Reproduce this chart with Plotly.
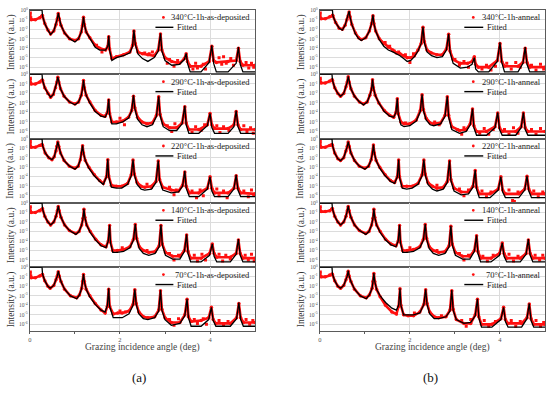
import plotly.graph_objects as go

# ---------------- data (log10 of intensity) ----------------
labels_a = ["340°C-1h-as-deposited", "290°C-1h-as-deposited", "220°C-1h-as-deposited",
            "140°C-1h-as-deposited", "70°C-1h-as-deposited"]
labels_b = ["340°C-1h-anneal", "290°C-1h-anneal", "220°C-1h-anneal",
            "140°C-1h-anneal", "70°C-1h-anneal"]
fit_label = "Fitted"
x_title = "Grazing incidence angle (deg)"
y_title = "Intensity (a.u.)"
panel_tags = ["(a)", "(b)"]

# ---- panel (a) ----
ang_a340 = [0, 0.03, 0.12, 0.22, 0.27, 0.28, 0.33, 0.40, 0.46, 0.53, 0.58, 0.61, 0.63, 0.65, 0.69, 0.77, 0.88, 1.00, 1.08, 1.14, 1.17, 1.19, 1.21, 1.25, 1.33, 1.45, 1.55, 1.68, 1.73, 1.75, 1.77, 1.82, 1.92, 2.08, 2.22, 2.28, 2.31, 2.34, 2.40, 2.50, 2.62, 2.76, 2.85, 2.90, 2.93, 3.00, 3.15, 3.32, 3.43, 3.47, 3.50, 3.56, 3.80, 3.98, 4.04, 4.08, 4.14, 4.40, 4.58, 4.63, 4.67, 4.73, 5.00]
fit_a340 = [0, 0, 0, 0, 0, -0.6, -1.4, -2.1, -2.55, -2.2, -1.5, -0.9, -0.3, -0.9, -1.6, -2.4, -3.0, -3.35, -3.0, -2.3, -1.6, -0.7, -1.5, -2.3, -3.0, -3.9, -4.2, -4.2, -3.8, -2.7, -4.2, -5.3, -5.0, -4.8, -4.5, -3.8, -2.1, -3.6, -4.6, -5.1, -5.4, -5.0, -4.3, -2.45, -4.3, -5.3, -5.8, -5.7, -5.2, -4.55, -5.6, -6.5, -6.5, -5.5, -3.7, -5.6, -6.5, -6.5, -5.6, -3.9, -5.7, -6.5, -6.5]
meas_a340 = [-0.5, -1.0, -1.0, -0.8, -0.6, -0.6, -1.4, -2.1, -2.5, -2.2, -1.5, -0.9, -0.35, -0.9, -1.6, -2.4, -3.0, -3.2, -3.0, -2.3, -1.6, -0.75, -1.5, -2.3, -2.9, -3.7, -4.0, -4.2, -3.8, -2.8, -4.1, -5.1, -4.9, -4.7, -4.4, -3.7, -2.2, -3.5, -4.4, -4.6, -4.7, -4.8, -4.2, -2.5, -4.2, -5.0, -5.4, -5.6, -5.1, -4.6, -5.4, -5.9, -5.9, -5.4, -3.8, -5.3, -5.5, -5.4, -5.3, -4.0, -5.4, -5.8, -5.8]
noise_ang_a340 = [0.01, 0.02, 1.48, 1.6, 2.55, 2.65, 2.72, 3.05, 3.1, 3.2, 3.28, 3.62, 3.68, 3.72, 3.85, 3.9, 4.2, 4.26, 4.3, 4.36, 4.46, 4.52, 4.8, 4.86, 4.92, 4.97]
noise_a340 = [-0.3, -0.8, -3.7, -4.4, -4.5, -4.6, -4.4, -5.6, -5.2, -5.9, -5.3, -6.2, -5.6, -6.1, -5.7, -6.2, -5.0, -5.7, -4.9, -5.6, -5.1, -5.8, -5.5, -6.1, -5.6, -6.0]

ang_a290 = [0, 0.03, 0.12, 0.22, 0.27, 0.28, 0.33, 0.40, 0.46, 0.52, 0.57, 0.60, 0.62, 0.64, 0.68, 0.76, 0.88, 1.00, 1.08, 1.14, 1.17, 1.19, 1.21, 1.25, 1.33, 1.45, 1.58, 1.67, 1.72, 1.75, 1.77, 1.82, 1.92, 2.06, 2.19, 2.26, 2.30, 2.33, 2.39, 2.49, 2.60, 2.72, 2.81, 2.86, 2.89, 2.96, 3.10, 3.26, 3.38, 3.44, 3.47, 3.53, 3.75, 3.94, 4.00, 4.04, 4.10, 4.40, 4.53, 4.58, 4.62, 4.68, 5.00]
fit_a290 = [0, 0, 0, 0, 0, -0.6, -1.4, -2.0, -2.4, -2.1, -1.4, -0.8, -0.25, -0.8, -1.5, -2.3, -2.9, -3.2, -2.9, -2.2, -1.5, -0.6, -1.4, -2.2, -3.0, -3.9, -4.4, -4.5, -4.0, -2.6, -4.2, -5.2, -5.2, -5.0, -4.6, -3.8, -2.2, -3.6, -4.7, -5.3, -5.5, -5.3, -4.4, -2.3, -4.3, -5.5, -5.9, -5.9, -5.2, -3.3, -5.3, -6.2, -6.2, -5.4, -4.1, -5.6, -6.2, -6.2, -5.5, -3.8, -5.5, -6.2, -6.2]
meas_a290 = [-0.5, -1.0, -1.0, -0.8, -0.6, -0.6, -1.4, -2.0, -2.4, -2.1, -1.4, -0.8, -0.3, -0.8, -1.5, -2.3, -2.9, -3.1, -2.9, -2.2, -1.5, -0.65, -1.4, -2.2, -2.9, -3.8, -4.3, -4.4, -4.0, -2.7, -4.1, -5.0, -5.0, -4.9, -4.5, -3.8, -2.3, -3.5, -4.5, -5.0, -5.2, -5.1, -4.3, -2.35, -4.2, -5.2, -5.6, -5.6, -5.1, -3.4, -5.1, -5.8, -5.8, -5.3, -4.1, -5.3, -5.7, -5.7, -5.3, -3.9, -5.3, -5.8, -5.8]
noise_ang_a290 = [0.01, 2.0, 2.1, 3.05, 3.15, 3.22, 3.6, 3.68, 3.8, 3.88, 4.15, 4.22, 4.3, 4.42, 4.75, 4.82, 4.9, 4.96]
noise_a290 = [-0.4, -4.6, -5.3, -5.4, -6.0, -5.2, -6.1, -5.5, -5.9, -5.3, -5.4, -6.1, -5.5, -5.9, -5.4, -6.0, -5.6, -6.2]

ang_a220 = [0, 0.03, 0.12, 0.22, 0.27, 0.28, 0.34, 0.42, 0.49, 0.54, 0.58, 0.60, 0.62, 0.64, 0.68, 0.76, 0.88, 1.00, 1.07, 1.12, 1.15, 1.17, 1.19, 1.23, 1.31, 1.43, 1.55, 1.63, 1.70, 1.73, 1.75, 1.81, 1.92, 2.04, 2.17, 2.25, 2.29, 2.32, 2.38, 2.47, 2.55, 2.70, 2.80, 2.85, 2.88, 2.95, 3.14, 3.30, 3.39, 3.44, 3.47, 3.54, 3.75, 3.94, 4.00, 4.04, 4.10, 4.40, 4.53, 4.58, 4.62, 4.68, 5.00]
fit_a220 = [0, 0, 0, 0, 0, -0.7, -1.5, -2.0, -2.2, -1.9, -1.3, -0.8, -0.3, -0.8, -1.5, -2.3, -2.9, -3.2, -2.9, -2.2, -1.5, -0.7, -1.5, -2.3, -3.1, -3.9, -4.5, -4.8, -4.0, -2.15, -4.0, -5.1, -5.2, -5.2, -4.8, -3.9, -2.2, -3.8, -4.8, -5.3, -5.4, -5.3, -4.6, -2.3, -4.4, -5.4, -5.7, -5.6, -5.0, -3.4, -5.2, -6.1, -6.1, -5.3, -4.0, -5.5, -6.1, -6.1, -5.3, -3.8, -5.4, -6.1, -6.1]
meas_a220 = [-0.5, -0.9, -0.9, -0.7, -0.6, -0.7, -1.5, -2.0, -2.2, -1.9, -1.3, -0.8, -0.35, -0.8, -1.5, -2.3, -2.9, -3.1, -2.9, -2.2, -1.5, -0.75, -1.5, -2.3, -3.0, -3.8, -4.4, -4.7, -4.0, -2.2, -3.9, -4.9, -5.0, -5.0, -4.7, -3.8, -2.25, -3.7, -4.6, -5.0, -5.1, -5.0, -4.5, -2.35, -4.3, -5.1, -5.4, -5.5, -4.9, -3.5, -5.0, -5.7, -5.7, -5.2, -4.0, -5.2, -5.7, -5.7, -5.2, -3.9, -5.2, -5.7, -5.8]
noise_ang_a220 = [0.01, 2.6, 2.7, 3.1, 3.2, 3.25, 3.6, 3.7, 3.78, 3.85, 4.15, 4.2, 4.3, 4.38, 4.75, 4.85, 4.92, 4.97]
noise_a220 = [-0.3, -4.8, -5.1, -5.1, -5.9, -5.4, -5.5, -6.2, -5.4, -6.0, -5.3, -6.0, -5.5, -6.2, -5.5, -6.1, -5.4, -5.9]

ang_a140 = [0, 0.03, 0.12, 0.22, 0.27, 0.28, 0.33, 0.40, 0.46, 0.53, 0.58, 0.61, 0.63, 0.65, 0.69, 0.77, 0.88, 1.02, 1.09, 1.15, 1.18, 1.20, 1.22, 1.26, 1.34, 1.46, 1.58, 1.69, 1.74, 1.77, 1.79, 1.84, 1.94, 2.08, 2.22, 2.30, 2.34, 2.37, 2.43, 2.52, 2.64, 2.78, 2.87, 2.91, 2.94, 3.01, 3.17, 3.33, 3.43, 3.48, 3.51, 3.57, 3.80, 3.99, 4.05, 4.09, 4.15, 4.45, 4.58, 4.63, 4.67, 4.73, 5.00]
fit_a140 = [0, 0, 0, 0, 0, -0.6, -1.4, -2.0, -2.3, -2.0, -1.4, -0.8, -0.3, -0.8, -1.5, -2.3, -2.9, -3.3, -3.0, -2.3, -1.6, -0.6, -1.5, -2.3, -3.1, -3.9, -4.5, -4.7, -4.0, -2.3, -4.2, -5.2, -5.2, -5.1, -4.7, -3.9, -2.2, -3.8, -4.8, -5.3, -5.5, -5.3, -4.6, -2.3, -4.4, -5.5, -5.9, -5.9, -5.1, -3.3, -5.3, -6.2, -6.2, -5.5, -4.3, -5.6, -6.2, -6.2, -5.4, -3.8, -5.5, -6.2, -6.2]
meas_a140 = [-0.5, -1.0, -1.0, -0.8, -0.7, -0.6, -1.4, -2.0, -2.3, -2.0, -1.4, -0.8, -0.35, -0.8, -1.5, -2.3, -2.9, -3.2, -3.0, -2.3, -1.6, -0.65, -1.5, -2.3, -3.0, -3.8, -4.4, -4.6, -4.0, -2.35, -4.1, -5.0, -5.0, -4.9, -4.6, -3.8, -2.25, -3.7, -4.6, -5.0, -5.2, -5.1, -4.5, -2.35, -4.3, -5.2, -5.6, -5.6, -5.0, -3.35, -5.1, -5.8, -5.8, -5.3, -4.3, -5.3, -5.7, -5.7, -5.3, -3.9, -5.3, -5.8, -5.8]
noise_ang_a140 = [0.01, 2.05, 2.6, 3.1, 3.2, 3.3, 3.65, 3.72, 3.82, 3.9, 4.2, 4.28, 4.35, 4.45, 4.78, 4.85, 4.92, 4.98]
noise_a140 = [-0.4, -4.7, -5.0, -5.3, -6.0, -5.5, -5.5, -6.1, -5.4, -6.0, -5.4, -6.1, -5.5, -5.9, -5.5, -6.0, -5.4, -6.1]

ang_a70 = [0, 0.03, 0.12, 0.22, 0.27, 0.28, 0.33, 0.40, 0.45, 0.53, 0.58, 0.61, 0.63, 0.65, 0.69, 0.77, 0.90, 1.04, 1.10, 1.15, 1.17, 1.19, 1.21, 1.25, 1.33, 1.45, 1.58, 1.67, 1.72, 1.75, 1.77, 1.85, 1.95, 2.05, 2.20, 2.29, 2.33, 2.36, 2.42, 2.52, 2.62, 2.77, 2.86, 2.90, 2.93, 3.00, 3.14, 3.33, 3.44, 3.49, 3.52, 3.58, 3.80, 3.97, 4.03, 4.07, 4.13, 4.45, 4.59, 4.64, 4.68, 4.74, 5.00]
fit_a70 = [0, 0, 0, 0, 0, -0.7, -1.4, -2.0, -2.2, -1.9, -1.3, -0.9, -0.4, -0.9, -1.5, -2.3, -3.0, -3.3, -2.9, -2.2, -1.5, -0.7, -1.5, -2.3, -3.1, -3.9, -4.5, -4.7, -4.0, -2.2, -4.1, -5.3, -5.3, -5.3, -4.9, -4.0, -2.3, -3.9, -4.9, -5.4, -5.5, -5.3, -4.6, -2.4, -4.5, -5.5, -6.1, -5.9, -5.1, -3.3, -5.3, -6.2, -6.2, -5.5, -4.2, -5.6, -6.2, -6.2, -5.4, -3.7, -5.5, -6.2, -6.2]
meas_a70 = [-0.6, -1.1, -1.1, -0.9, -0.8, -0.75, -1.4, -2.0, -2.2, -1.9, -1.3, -0.9, -0.45, -0.9, -1.5, -2.3, -3.0, -3.2, -2.9, -2.2, -1.5, -0.75, -1.5, -2.3, -3.0, -3.8, -4.5, -4.8, -4.1, -2.3, -4.1, -4.9, -4.8, -4.8, -4.6, -3.9, -2.35, -3.8, -4.7, -5.2, -5.3, -5.2, -4.5, -2.45, -4.4, -5.3, -5.8, -5.8, -5.0, -3.35, -5.2, -5.7, -5.6, -5.3, -4.2, -5.5, -5.9, -5.9, -5.3, -3.8, -5.3, -5.8, -5.8]
noise_ang_a70 = [0.01, 0.02, 2.0, 2.12, 3.1, 3.2, 3.3, 3.65, 3.72, 3.85, 3.92, 4.2, 4.3, 4.4, 4.8, 4.88, 4.95]
noise_a70 = [-0.5, -0.9, -4.6, -4.7, -5.5, -6.1, -5.4, -5.5, -5.9, -5.4, -6.0, -5.6, -6.1, -5.7, -5.5, -6.0, -5.6]

# ---- panel (b) ----
ang_b340 = [0, 0.03, 0.12, 0.22, 0.28, 0.29, 0.35, 0.43, 0.50, 0.56, 0.60, 0.63, 0.65, 0.67, 0.71, 0.79, 0.86, 0.92, 1.02, 1.10, 1.15, 1.18, 1.20, 1.24, 1.32, 1.42, 1.52, 1.62, 1.70, 1.78, 1.86, 1.94, 2.02, 2.10, 2.18, 2.25, 2.29, 2.32, 2.38, 2.48, 2.60, 2.72, 2.81, 2.86, 2.89, 2.96, 3.12, 3.28, 3.38, 3.43, 3.46, 3.52, 3.75, 3.94, 4.00, 4.04, 4.10, 4.40, 4.51, 4.56, 4.60, 4.66, 5.00]
fit_b340 = [0, 0, 0, 0, 0, -0.6, -1.3, -1.9, -2.1, -1.6, -1.0, -0.6, -0.1, -0.7, -1.5, -2.5, -3.0, -3.2, -2.9, -2.2, -1.4, -0.5, -1.4, -2.2, -3.1, -3.8, -4.2, -4.4, -4.6, -4.8, -5.1, -5.4, -5.3, -4.9, -4.3, -3.5, -1.75, -3.4, -4.4, -4.8, -5.0, -4.9, -4.2, -2.5, -4.4, -5.6, -6.1, -6.0, -5.7, -5.0, -6.2, -6.5, -6.5, -5.4, -3.4, -5.5, -6.5, -6.5, -5.6, -3.9, -5.7, -6.5, -6.5]
meas_b340 = [-0.5, -0.9, -0.9, -0.7, -0.55, -0.6, -1.3, -1.9, -2.0, -1.6, -1.0, -0.6, -0.2, -0.7, -1.5, -2.4, -2.9, -3.1, -2.9, -2.2, -1.4, -0.6, -1.4, -2.2, -3.0, -3.5, -3.9, -4.2, -4.5, -4.6, -4.8, -5.0, -5.0, -4.8, -4.2, -3.5, -1.8, -3.3, -4.2, -4.5, -4.7, -4.7, -4.1, -2.55, -4.3, -5.2, -5.6, -5.6, -5.4, -4.9, -5.7, -6.0, -6.0, -5.3, -3.5, -5.4, -5.9, -5.9, -5.5, -4.0, -5.5, -6.0, -6.0]
noise_ang_b340 = [0.01, 1.45, 1.55, 1.65, 1.75, 1.9, 2.0, 2.08, 3.0, 3.1, 3.2, 3.3, 3.6, 3.7, 3.8, 3.9, 4.15, 4.25, 4.35, 4.45, 4.7, 4.8, 4.9, 4.97]
noise_b340 = [-0.3, -3.4, -3.8, -4.3, -4.4, -4.7, -5.5, -4.6, -5.2, -5.8, -5.4, -6.0, -6.2, -5.8, -6.3, -5.9, -5.6, -6.2, -5.5, -6.0, -5.8, -6.3, -5.7, -6.2]

ang_b290 = [0, 0.03, 0.12, 0.22, 0.27, 0.28, 0.33, 0.40, 0.46, 0.53, 0.58, 0.61, 0.63, 0.65, 0.69, 0.77, 0.88, 0.97, 1.05, 1.11, 1.15, 1.17, 1.19, 1.23, 1.31, 1.43, 1.55, 1.64, 1.69, 1.72, 1.74, 1.80, 1.87, 2.00, 2.14, 2.23, 2.27, 2.30, 2.36, 2.45, 2.53, 2.68, 2.78, 2.83, 2.86, 2.93, 3.10, 3.25, 3.34, 3.39, 3.42, 3.48, 3.70, 3.89, 3.95, 3.99, 4.05, 4.35, 4.47, 4.52, 4.56, 4.62, 5.00]
fit_b290 = [0, 0, 0, 0, 0, -0.6, -1.4, -2.0, -2.3, -2.0, -1.3, -0.8, -0.2, -0.8, -1.5, -2.3, -2.9, -3.2, -2.9, -2.2, -1.5, -0.5, -1.4, -2.2, -3.0, -3.9, -4.4, -4.5, -4.0, -2.5, -4.2, -5.3, -5.5, -5.4, -4.9, -3.9, -2.1, -3.8, -4.8, -5.3, -5.4, -5.2, -4.4, -2.3, -4.5, -5.8, -6.2, -6.0, -5.3, -3.6, -5.6, -6.4, -6.4, -5.6, -4.0, -5.8, -6.4, -6.4, -5.6, -4.0, -5.8, -6.4, -6.4]
meas_b290 = [-0.5, -0.9, -0.9, -0.7, -0.55, -0.6, -1.4, -2.0, -2.3, -2.0, -1.3, -0.8, -0.25, -0.8, -1.5, -2.3, -2.9, -3.1, -2.9, -2.2, -1.5, -0.55, -1.4, -2.2, -3.0, -3.8, -4.3, -4.5, -4.0, -2.55, -4.1, -5.0, -5.2, -5.2, -4.8, -3.8, -2.15, -3.7, -4.6, -5.1, -5.2, -5.1, -4.3, -2.35, -4.3, -5.5, -5.9, -5.8, -5.2, -3.65, -5.4, -6.0, -6.0, -5.5, -4.05, -5.6, -6.0, -6.0, -5.5, -4.05, -5.6, -6.0, -6.0]
noise_ang_b290 = [0.01, 1.9, 2.55, 2.65, 3.05, 3.15, 3.2, 3.55, 3.65, 3.75, 3.85, 4.1, 4.2, 4.3, 4.4, 4.7, 4.8, 4.9]
noise_b290 = [-0.4, -5.1, -5.0, -5.3, -5.8, -6.3, -5.6, -6.2, -5.7, -6.3, -5.8, -5.8, -6.3, -5.6, -6.2, -5.8, -6.3, -5.7]

ang_b220 = [0, 0.03, 0.12, 0.22, 0.27, 0.28, 0.33, 0.40, 0.46, 0.53, 0.58, 0.61, 0.63, 0.65, 0.69, 0.77, 0.88, 1.00, 1.08, 1.14, 1.17, 1.19, 1.21, 1.25, 1.33, 1.45, 1.57, 1.66, 1.72, 1.75, 1.77, 1.83, 1.93, 2.05, 2.18, 2.27, 2.31, 2.34, 2.40, 2.50, 2.60, 2.74, 2.83, 2.88, 2.91, 2.98, 3.14, 3.30, 3.40, 3.45, 3.48, 3.54, 3.78, 3.96, 4.02, 4.06, 4.12, 4.42, 4.55, 4.60, 4.64, 4.70, 5.00]
fit_b220 = [0, 0, 0, 0, 0, -0.7, -1.5, -2.1, -2.3, -2.0, -1.3, -0.8, -0.3, -0.8, -1.5, -2.3, -2.9, -3.2, -2.9, -2.2, -1.5, -0.6, -1.5, -2.3, -3.1, -3.9, -4.5, -4.7, -4.0, -2.2, -4.1, -5.2, -5.3, -5.2, -4.8, -3.9, -2.2, -3.8, -4.8, -5.3, -5.5, -5.3, -4.6, -2.3, -4.4, -5.5, -5.9, -5.8, -5.1, -3.3, -5.3, -6.2, -6.2, -5.4, -4.0, -5.6, -6.2, -6.2, -5.4, -3.9, -5.5, -6.2, -6.2]
meas_b220 = [-0.5, -0.9, -0.9, -0.7, -0.6, -0.7, -1.5, -2.1, -2.3, -2.0, -1.3, -0.8, -0.35, -0.8, -1.5, -2.3, -2.9, -3.1, -2.9, -2.2, -1.5, -0.65, -1.5, -2.3, -3.0, -3.8, -4.4, -4.6, -4.0, -2.25, -4.0, -5.0, -5.0, -5.0, -4.7, -3.8, -2.25, -3.7, -4.6, -5.0, -5.2, -5.1, -4.5, -2.35, -4.3, -5.2, -5.6, -5.6, -5.0, -3.35, -5.1, -5.8, -5.8, -5.3, -4.0, -5.4, -5.8, -5.8, -5.3, -3.95, -5.3, -5.8, -5.8]
noise_ang_b220 = [0.01, 2.6, 3.1, 3.2, 3.3, 3.6, 3.7, 3.8, 4.2, 4.28, 4.32, 4.4, 4.75, 4.85, 4.95]
noise_b220 = [-0.3, -4.9, -5.3, -6.0, -5.4, -5.5, -6.1, -5.6, -5.4, -6.5, -6.6, -5.6, -5.5, -6.1, -5.6]

ang_b140 = [0, 0.03, 0.12, 0.22, 0.27, 0.28, 0.33, 0.40, 0.46, 0.53, 0.58, 0.61, 0.63, 0.65, 0.69, 0.77, 0.88, 1.02, 1.09, 1.15, 1.18, 1.20, 1.22, 1.26, 1.34, 1.46, 1.58, 1.69, 1.74, 1.77, 1.79, 1.84, 1.94, 2.08, 2.22, 2.30, 2.34, 2.37, 2.43, 2.52, 2.64, 2.78, 2.87, 2.91, 2.94, 3.01, 3.17, 3.33, 3.43, 3.48, 3.51, 3.57, 3.80, 3.99, 4.05, 4.09, 4.15, 4.45, 4.58, 4.63, 4.67, 4.73, 5.00]
fit_b140 = [0, 0, 0, 0, 0, -0.6, -1.4, -2.0, -2.3, -2.0, -1.4, -0.8, -0.3, -0.8, -1.5, -2.3, -2.9, -3.3, -3.0, -2.3, -1.6, -0.6, -1.5, -2.3, -3.1, -3.9, -4.4, -4.6, -4.0, -2.3, -4.2, -5.2, -5.2, -5.1, -4.7, -3.9, -2.2, -3.8, -4.8, -5.3, -5.5, -5.3, -4.6, -2.4, -4.4, -5.5, -5.9, -5.9, -5.1, -3.4, -5.3, -6.2, -6.2, -5.5, -4.2, -5.6, -6.2, -6.2, -5.4, -3.8, -5.5, -6.2, -6.2]
meas_b140 = [-0.5, -0.9, -0.9, -0.8, -0.6, -0.6, -1.4, -2.0, -2.3, -2.0, -1.4, -0.8, -0.35, -0.8, -1.5, -2.3, -2.9, -3.2, -3.0, -2.3, -1.6, -0.65, -1.5, -2.3, -3.0, -3.8, -4.3, -4.5, -4.0, -2.35, -4.1, -5.0, -5.0, -4.9, -4.6, -3.8, -2.25, -3.7, -4.6, -5.0, -5.2, -5.1, -4.5, -2.45, -4.3, -5.2, -5.6, -5.6, -5.0, -3.45, -5.1, -5.8, -5.8, -5.3, -4.2, -5.3, -5.8, -5.8, -5.3, -3.9, -5.3, -5.8, -5.8]
noise_ang_b140 = [0.01, 2.0, 2.6, 3.1, 3.2, 3.3, 3.62, 3.72, 3.85, 4.2, 4.3, 4.4, 4.78, 4.88, 4.95]
noise_b140 = [-0.4, -4.7, -5.0, -5.3, -6.0, -5.5, -5.6, -6.1, -5.5, -5.4, -6.1, -5.6, -5.5, -6.0, -5.5]

ang_b70 = [0, 0.03, 0.12, 0.22, 0.27, 0.28, 0.33, 0.40, 0.46, 0.53, 0.58, 0.61, 0.63, 0.65, 0.69, 0.77, 0.90, 1.03, 1.10, 1.16, 1.18, 1.20, 1.22, 1.26, 1.34, 1.46, 1.60, 1.70, 1.75, 1.78, 1.80, 1.86, 1.96, 2.08, 2.22, 2.31, 2.35, 2.38, 2.44, 2.54, 2.64, 2.80, 2.89, 2.93, 2.96, 3.03, 3.20, 3.35, 3.45, 3.50, 3.53, 3.59, 3.82, 4.02, 4.08, 4.12, 4.18, 4.48, 4.60, 4.65, 4.69, 4.75, 5.00]
fit_b70 = [0, 0, 0, 0, 0, -0.7, -1.4, -2.0, -2.2, -1.9, -1.3, -0.9, -0.35, -0.9, -1.5, -2.3, -3.0, -3.3, -2.9, -2.2, -1.5, -0.6, -1.5, -2.3, -3.0, -3.7, -4.3, -4.5, -4.0, -2.2, -4.0, -5.0, -5.0, -5.0, -4.8, -3.9, -2.3, -3.9, -4.9, -5.4, -5.4, -5.2, -4.6, -2.4, -4.5, -5.5, -5.9, -5.8, -5.1, -3.3, -5.3, -6.3, -6.3, -5.5, -4.2, -5.7, -6.3, -6.3, -5.4, -3.8, -5.6, -6.3, -6.3]
meas_b70 = [-0.6, -1.0, -1.0, -0.8, -0.7, -0.75, -1.4, -2.0, -2.2, -1.9, -1.3, -0.9, -0.4, -0.9, -1.5, -2.3, -3.0, -3.2, -2.9, -2.2, -1.5, -0.65, -1.5, -2.3, -3.1, -4.0, -4.7, -4.9, -4.1, -2.25, -4.0, -5.0, -5.1, -5.1, -4.7, -3.9, -2.35, -3.8, -4.7, -5.2, -5.3, -5.2, -4.5, -2.45, -4.4, -5.5, -5.9, -5.9, -5.0, -3.35, -5.2, -6.0, -6.0, -5.4, -4.2, -5.5, -5.9, -5.9, -5.3, -3.85, -5.4, -6.0, -6.0]
noise_ang_b70 = [0.01, 2.1, 2.7, 3.15, 3.25, 3.35, 3.65, 3.75, 3.9, 4.25, 4.35, 4.45, 4.8, 4.9, 4.97]
noise_b70 = [-0.5, -4.8, -5.1, -5.6, -6.2, -5.5, -5.6, -6.2, -5.7, -5.6, -6.2, -5.7, -5.6, -6.2, -5.8]

y_tick_exp = [0, -1, -2, -3, -4, -5, -6]
x_tick_vals = [0, 2, 4]

# ---------------- layout ----------------
W, H = 550, 395
TOP, BOT = 7.0, 331.0
ROW_H = (BOT - TOP) / 5
PANEL_X = [(28.0, 254.0), (319.0, 545.0)]
SERIF = "Liberation Serif"
RED = "#ff1010"
GRID = "#dcdcdc"
FRAME = "#5a5a5a"

panels = [
    [(ang_a340, fit_a340, meas_a340, noise_ang_a340, noise_a340),
     (ang_a290, fit_a290, meas_a290, noise_ang_a290, noise_a290),
     (ang_a220, fit_a220, meas_a220, noise_ang_a220, noise_a220),
     (ang_a140, fit_a140, meas_a140, noise_ang_a140, noise_a140),
     (ang_a70, fit_a70, meas_a70, noise_ang_a70, noise_a70)],
    [(ang_b340, fit_b340, meas_b340, noise_ang_b340, noise_b340),
     (ang_b290, fit_b290, meas_b290, noise_ang_b290, noise_b290),
     (ang_b220, fit_b220, meas_b220, noise_ang_b220, noise_b220),
     (ang_b140, fit_b140, meas_b140, noise_ang_b140, noise_b140),
     (ang_b70, fit_b70, meas_b70, noise_ang_b70, noise_b70)],
]
labels = [labels_a, labels_b]
# legend geometry (pixels): dot x, label right edge, line x0, line x1, "Fitted" left
LEG = [(162.0, 251.0, 154.0, 172.0, 174.0), (473.0, 543.0, 464.0, 483.0, 485.0)]


def px(x):
    return x / W


def py(y):
    return 1 - y / H


fig = go.Figure()
axes = {}
shapes = []
annotations = []
ytickvals = [10.0 ** e for e in y_tick_exp]
yticktext = ["10<sup>%d</sup>" % e for e in y_tick_exp]

for p, rows in enumerate(panels):
    x0, x1 = PANEL_X[p]
    dot_x, lab_r, ln0, ln1, fit_l = LEG[p]
    for r, (ang, fit, meas, nang, nval) in enumerate(rows):
        assert len(ang) == len(fit) == len(meas), (p, r, len(ang), len(fit), len(meas))
        assert len(nang) == len(nval), (p, r)
        k = p * 5 + r + 1
        xa = "x" if k == 1 else "x%d" % k
        ya = "y" if k == 1 else "y%d" % k
        t = TOP + r * ROW_H
        b = t + ROW_H
        fig.add_trace(go.Scatter(x=ang, y=[10.0 ** v for v in meas], mode="lines+markers",
                                 line=dict(color=RED, width=2.6), marker=dict(color=RED, size=3.5),
                                 xaxis=xa, yaxis=ya, showlegend=False, hoverinfo="skip"))
        fig.add_trace(go.Scatter(x=nang, y=[10.0 ** v for v in nval], mode="markers",
                                 marker=dict(color=RED, size=3, symbol="square"),
                                 xaxis=xa, yaxis=ya, showlegend=False, hoverinfo="skip"))
        fig.add_trace(go.Scatter(x=ang, y=[10.0 ** v for v in fit], mode="lines",
                                 line=dict(color="black", width=1.3),
                                 xaxis=xa, yaxis=ya, showlegend=False, hoverinfo="skip"))
        bottom = (r == 4)
        xkey = "xaxis" if k == 1 else "xaxis%d" % k
        ykey = "yaxis" if k == 1 else "yaxis%d" % k
        xd = dict(domain=[px(x0), px(x1)], anchor=ya, range=[0, 5],
                  tickmode="array", tickvals=x_tick_vals, showticklabels=bottom,
                  showgrid=True, gridcolor=GRID, gridwidth=1, zeroline=False,
                  showline=True, mirror=True, linecolor=FRAME, linewidth=1,
                  ticks="outside" if bottom else "", ticklen=2, tickcolor=FRAME,
                  tickfont=dict(family=SERIF, size=6.5, color="#555"))
        if bottom:
            xd["minor"] = dict(tickvals=[1, 3], ticks="outside", ticklen=2,
                               tickcolor=FRAME, showgrid=False)
        axes[xkey] = xd
        axes[ykey] = dict(domain=[py(b), py(t)], anchor=xa, type="log", range=[-6.75, 0.02],
                          tickmode="array", tickvals=ytickvals, ticktext=yticktext,
                          showgrid=True, gridcolor=GRID, gridwidth=1, zeroline=False,
                          showline=True, mirror=True, linecolor=FRAME, linewidth=1,
                          ticks="", tickfont=dict(family=SERIF, size=5.5, color="#555"))
        # y title
        annotations.append(dict(text=y_title, xref="paper", yref="paper",
                                x=px(x0 - 19), y=py((t + b) / 2),
                                textangle=-90, showarrow=False, xanchor="center", yanchor="middle",
                                font=dict(family=SERIF, size=9.5, color="#333")))
        # manual legend
        y1 = t + 7.5
        y2 = t + 17.5
        shapes.append(dict(type="circle", xref="paper", yref="paper",
                           x0=px(dot_x - 1.4), x1=px(dot_x + 1.4), y0=py(y1 + 1.4), y1=py(y1 - 1.4),
                           fillcolor=RED, line=dict(width=0)))
        annotations.append(dict(text=labels[p][r], xref="paper", yref="paper", x=px(lab_r), y=py(y1),
                                xanchor="right", yanchor="middle", showarrow=False,
                                font=dict(family=SERIF, size=8.5, color="#222")))
        shapes.append(dict(type="line", xref="paper", yref="paper",
                           x0=px(ln0), x1=px(ln1), y0=py(y2), y1=py(y2),
                           line=dict(color="black", width=1.4)))
        annotations.append(dict(text=fit_label, xref="paper", yref="paper", x=px(fit_l), y=py(y2),
                                xanchor="left", yanchor="middle", showarrow=False,
                                font=dict(family=SERIF, size=8.5, color="#222")))
    # x title and panel tag
    annotations.append(dict(text=x_title, xref="paper", yref="paper", x=px((x0 + x1) / 2), y=py(347.5),
                            showarrow=False, xanchor="center", yanchor="middle",
                            font=dict(family=SERIF, size=9.5, color="#444")))
    annotations.append(dict(text=panel_tags[p], xref="paper", yref="paper",
                            x=px(138 if p == 0 else 430), y=py(377),
                            showarrow=False, xanchor="center", yanchor="middle",
                            font=dict(family=SERIF, size=13, color="#111")))

fig.update_layout(width=W, height=H, margin=dict(l=0, r=0, t=0, b=0),
                  paper_bgcolor="white", plot_bgcolor="white",
                  showlegend=False, shapes=shapes, annotations=annotations, **axes)
fig.write_html("out.html", config={"displayModeBar": False},
               post_script="document.body.style.margin='0';")
